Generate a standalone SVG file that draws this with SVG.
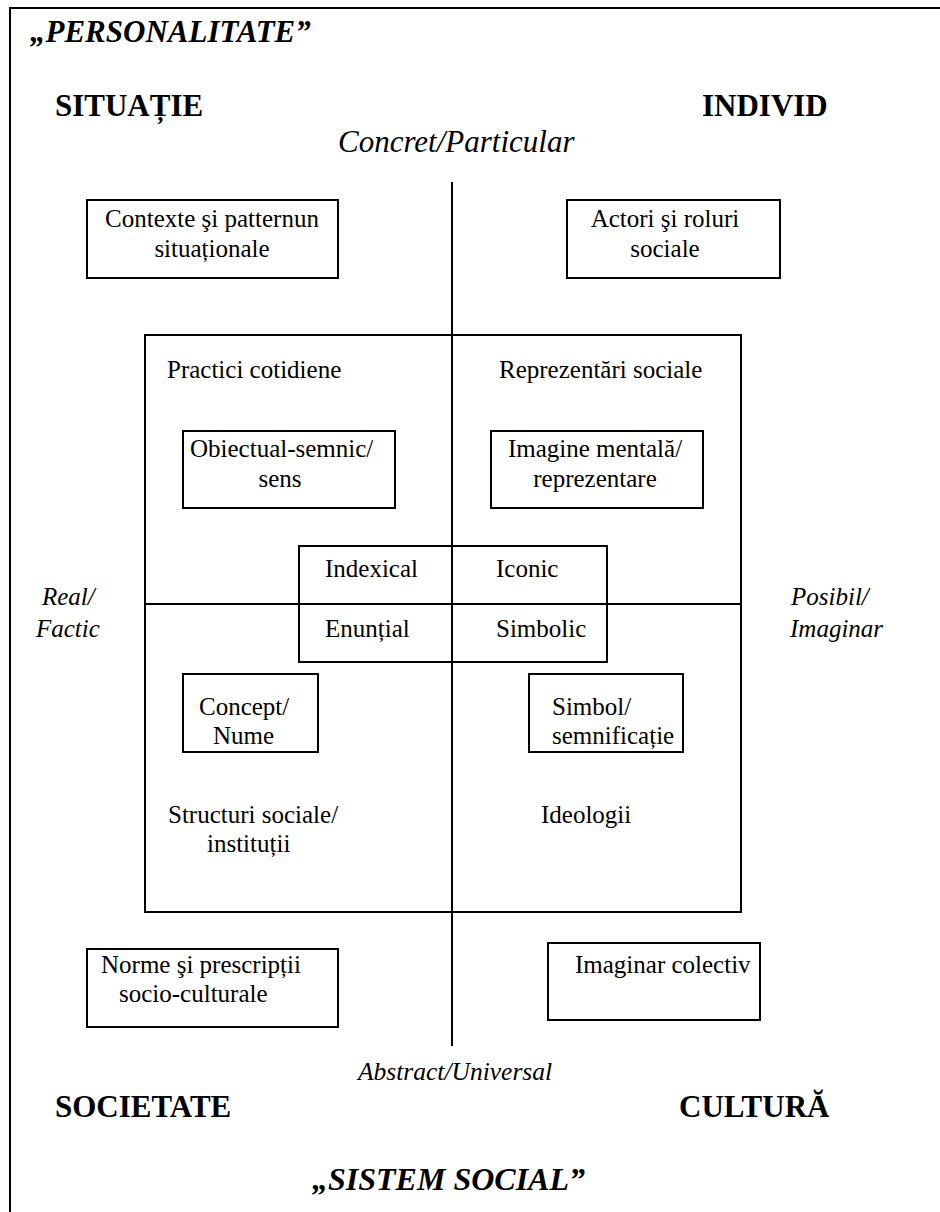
<svg xmlns="http://www.w3.org/2000/svg" width="940" height="1212" viewBox="0 0 940 1212">
<style>
  .box { fill: none; stroke: #000; stroke-width: 2; }
  .ln { stroke: #000; stroke-width: 2; fill: none; }
  text { font-family: 'Liberation Serif', 'Times New Roman', serif; fill: #000; }
  .t { font-size: 25px; }
  .it { font-size: 25px; font-style: italic; }
  .big { font-size: 31px; font-weight: bold; }
  .bigit { font-size: 31px; font-weight: bold; font-style: italic; }
  .axis { font-size: 31px; font-style: italic; }
  .axis2 { font-size: 25.5px; font-style: italic; }
</style>
<rect width="940" height="1212" fill="#fff"/>
<rect x="10" y="8" width="960" height="1240" class="box"/>

<g id="connectors">
  <line x1="452" y1="182" x2="452" y2="1046" class="ln"/>
  <line x1="145" y1="604" x2="741" y2="604" class="ln"/>
</g>

<g id="titles">
  <text x="30" y="42" class="bigit">„PERSONALITATE”</text>
  <text x="55" y="116" class="big">SITUAȚIE</text>
  <text x="702" y="116" class="big">INDIVID</text>
  <text x="338" y="152" class="axis">Concret/Particular</text>
  <text x="42" y="605" class="it">Real/</text>
  <text x="36" y="637" class="it">Factic</text>
  <text x="791" y="605" class="it">Posibil/</text>
  <text x="790" y="637" class="it">Imaginar</text>
  <text x="358" y="1080" class="axis2">Abstract/Universal</text>
  <text x="55" y="1117" class="big">SOCIETATE</text>
  <text x="679" y="1117" class="big">CULTURĂ</text>
  <text x="312" y="1190" class="bigit" style="font-size:32px">„SISTEM SOCIAL”</text>
</g>

<g id="contexte">
  <rect x="87" y="200" width="251" height="78" class="box"/>
  <text x="212" y="227" class="t" text-anchor="middle">Contexte şi patternun</text>
  <text x="212" y="257" class="t" text-anchor="middle">situaționale</text>
</g>

<g id="actori">
  <rect x="567" y="200" width="213" height="78" class="box"/>
  <text x="665" y="227" class="t" text-anchor="middle">Actori şi roluri</text>
  <text x="665" y="257" class="t" text-anchor="middle">sociale</text>
</g>

<g id="cadru">
  <rect x="145" y="335" width="596" height="577" class="box"/>
  <text x="167" y="378" class="t">Practici cotidiene</text>
  <text x="499" y="378" class="t">Reprezentări sociale</text>
  <text x="168" y="823" class="t">Structuri sociale/</text>
  <text x="207" y="852" class="t">instituții</text>
  <text x="541" y="823" class="t">Ideologii</text>
</g>

<g id="obiectual">
  <rect x="183" y="431" width="212" height="77" class="box"/>
  <text x="190" y="457" class="t">Obiectual-semnic/</text>
  <text x="280" y="487" class="t" text-anchor="middle">sens</text>
</g>

<g id="imagine">
  <rect x="491" y="431" width="212" height="77" class="box"/>
  <text x="595" y="457" class="t" text-anchor="middle">Imagine mentală/</text>
  <text x="595" y="487" class="t" text-anchor="middle">reprezentare</text>
</g>

<g id="semne">
  <rect x="299" y="546" width="308" height="116" class="box"/>
  <text x="325" y="577" class="t">Indexical</text>
  <text x="496" y="577" class="t">Iconic</text>
  <text x="325" y="637" class="t">Enunțial</text>
  <text x="496" y="637" class="t">Simbolic</text>
</g>

<g id="concept">
  <rect x="183" y="674" width="135" height="78" class="box"/>
  <text x="199" y="715" class="t">Concept/</text>
  <text x="213" y="744" class="t">Nume</text>
</g>

<g id="simbol">
  <rect x="529" y="674" width="154" height="78" class="box"/>
  <text x="552" y="715" class="t">Simbol/</text>
  <text x="552" y="744" class="t">semnificație</text>
</g>

<g id="norme">
  <rect x="87" y="949" width="251" height="78" class="box"/>
  <text x="101" y="973" class="t">Norme şi prescripții</text>
  <text x="119" y="1002" class="t">socio-culturale</text>
</g>

<g id="imaginar">
  <rect x="548" y="943" width="212" height="77" class="box"/>
  <text x="575" y="973" class="t">Imaginar colectiv</text>
</g>
</svg>
